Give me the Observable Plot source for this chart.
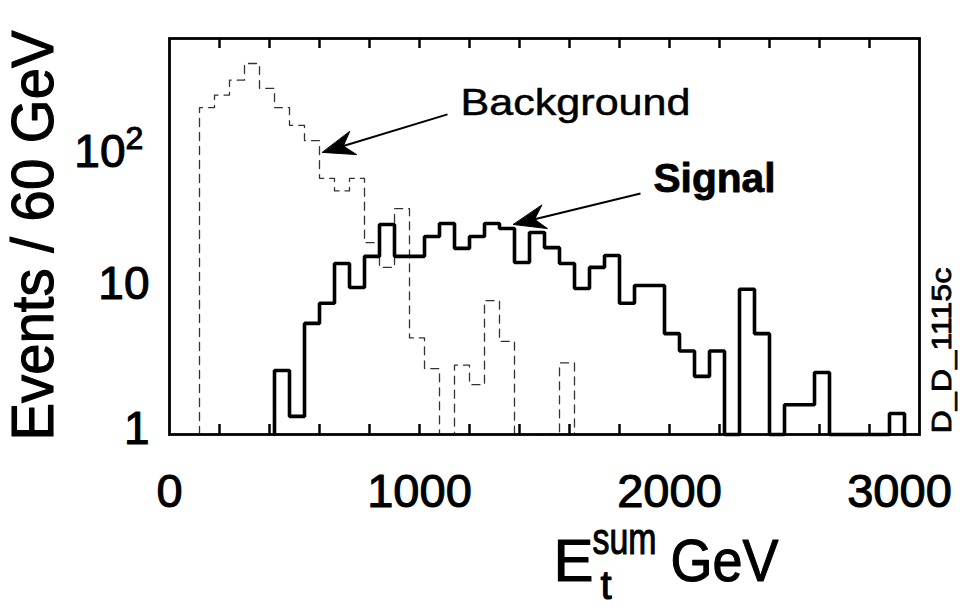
<!DOCTYPE html>
<html><head><meta charset="utf-8">
<script src="https://cdn.jsdelivr.net/npm/d3@7"></script>
<script src="https://cdn.jsdelivr.net/npm/@observablehq/plot@0.6"></script>
<style>body{margin:0;background:#fff} svg{display:block}</style>
</head><body><div id="chart"></div>
<script>
// ---- data ----
const binWidth = 60; // GeV
const signalStart = 420;
const signalValues = [2.67,1.32,5.5,7.5,13.8,9.55,15.4,25.1,15.4,15.4,20.9,25.5,17.4,20.9,25.5,23.6,14.0,22.2,17.6,13.8,9.4,13.0,15.6,7.5,9.85,9.85,4.7,3.6,2.44,3.6,0,9.3,4.7,0,1.58,1.58,2.59,0,0,0,0,1.38];
const backgroundStart = 120;
const backgroundValues = [151,183,230,297,203,151,115,91,51,42,51,19,13,32,4.4,2.75,0,2.9,2.15,7.8,4.17,0,0,0,3.0];
const xTickLabels = [0,1000,2000];
const xLastTickLabel = [3000];
const xTickMarks = [200,400,600,800,1000,1200,1400,1600,1800,2000,2200,2400,2600,2800];
const yDomain = [1,436];
const xDomain = [0,3000];
const arrows = [
  {id:"bg", x1:1112, y1:136, x2:612, y2:75.9},
  {id:"sig", x1:1884, y1:40.4, x2:1376, y2:25.1}
];
const bgLabel = [{text:"Background", x:1164, y:134}];
const sigLabel = [{text:"Signal", x:1936, y:41.1}];

// ---- build step outlines ----
function steps(start, values){
  const floor = yDomain[0];
  const pts = [{x:start, y:floor}];
  values.forEach((v,i)=>pts.push({x:start+i*binWidth, y:Math.max(v,floor)}));
  const end = start+values.length*binWidth;
  pts.push({x:end, y:Math.max(values[values.length-1],floor)});
  pts.push({x:end, y:floor});
  return pts;
}
const signalSteps = steps(signalStart, signalValues);
const backgroundSteps = steps(backgroundStart, backgroundValues);

const W = 962, H = 608, mL = 169, mR = 43, mT = 38, mB = 174;
const xs = d3.scaleLinear(xDomain,[mL,W-mR]);
const ys = d3.scaleLog(yDomain,[H-mB,mT]);
function head(a){
  const tx=xs(a.x2), ty=ys(a.y2), bx=xs(a.x1), by=ys(a.y1);
  const d=Math.hypot(bx-tx,by-ty), ux=(bx-tx)/d, uy=(by-ty)/d, nx=-uy, ny=ux;
  const L=32, Wd=12;
  const p=[[tx,ty],[tx+L*ux+Wd*nx,ty+L*uy+Wd*ny],[tx+0.68*L*ux,ty+0.68*L*uy],[tx+L*ux-Wd*nx,ty+L*uy-Wd*ny]];
  return p.map(([px,py])=>({id:a.id,x:xs.invert(px),y:ys.invert(py)}));
}
const heads = arrows.flatMap(head);
const shafts = arrows.map(a=>{const h=head(a)[2]; return {x1:a.x1,y1:a.y1,x2:h.x,y2:h.y};});
const frameH = H-mT-mB;
const heavy = {fill:"black", stroke:"black", strokeWidth:1.1};

const chart = Plot.plot({
  width: W, height: H,
  marginLeft: mL, marginRight: mR, marginTop: mT, marginBottom: mB,
  style: {fontFamily: "'Liberation Sans', Arial, Helvetica, sans-serif", background: "white", color: "black"},
  x: {domain: xDomain, axis: null},
  y: {type: "log", domain: yDomain, axis: null},
  marks: [
    Plot.line(backgroundSteps, {x:"x", y:"y", curve:"step-after", stroke:"#333", strokeWidth:1.3, strokeDasharray:"8,6"}),
    Plot.line(signalSteps, {x:"x", y:"y", curve:"step-after", stroke:"black", strokeWidth:3.6, strokeLinejoin:"miter"}),
    Plot.ruleX(xTickMarks, {x:d=>d, insetTop: frameH-10, stroke:"black", strokeWidth:2.5}),
    Plot.ruleX(xTickMarks, {x:d=>d, insetBottom: frameH-10, stroke:"black", strokeWidth:2.5}),
    Plot.frame({stroke:"black", strokeWidth:2.8}),
    Plot.text(xTickLabels, {x:d=>d, text:d=>String(d), frameAnchor:"bottom", lineAnchor:"bottom", dy:72, fontSize:47, ...heavy}),
    Plot.text(xLastTickLabel, {x:d=>d, text:d=>String(d), frameAnchor:"bottom", lineAnchor:"bottom", dx:-20, dy:72, fontSize:47, ...heavy}),
    Plot.text([1], {y:d=>d, text:()=>"1", frameAnchor:"left", textAnchor:"end", lineAnchor:"middle", dx:-20, dy:-5, fontSize:46, ...heavy}),
    Plot.text([10], {y:d=>d, text:()=>"10", frameAnchor:"left", textAnchor:"end", lineAnchor:"middle", dx:-20, dy:0, fontSize:46, ...heavy}),
    Plot.text([100], {y:d=>d, text:()=>"10", frameAnchor:"left", textAnchor:"end", lineAnchor:"middle", dx:-44, dy:18, fontSize:46, ...heavy}),
    Plot.text([100], {y:d=>d, text:()=>"2", frameAnchor:"left", textAnchor:"start", lineAnchor:"middle", dx:-44, dy:4, fontSize:32, ...heavy}),
    Plot.text(["Events / 60 GeV"], {text:d=>d, frameAnchor:"left", rotate:-90, textAnchor:"middle", lineAnchor:"middle", dx:-136, dy:-1, fontSize:60, ...heavy}),
    Plot.text(["E"], {text:d=>d, frameAnchor:"bottom-left", textAnchor:"start", lineAnchor:"bottom", dx:553-mL, dy:580-(H-mB), fontSize:60, ...heavy}),
    Plot.text(["sum"], {text:d=>d, frameAnchor:"bottom-left", textAnchor:"start", lineAnchor:"bottom", dx:592-mL, dy:553-(H-mB), fontSize:44, ...heavy}),
    Plot.text(["t"], {text:d=>d, frameAnchor:"bottom-left", textAnchor:"start", lineAnchor:"bottom", dx:600-mL, dy:598-(H-mB), fontSize:40, ...heavy}),
    Plot.text(["GeV"], {text:d=>d, frameAnchor:"bottom-left", textAnchor:"start", lineAnchor:"bottom", dx:670-mL, dy:580-(H-mB), fontSize:60, ...heavy}),
    Plot.text(["D_D_1115c"], {text:d=>d, frameAnchor:"bottom-right", rotate:-90, textAnchor:"start", lineAnchor:"middle", dx:23, dy:-1, fontSize:27, fill:"black", stroke:"black", strokeWidth:0.8}),
    Plot.link(shafts, {x1:"x1", y1:"y1", x2:"x2", y2:"y2", stroke:"black", strokeWidth:2}),
    Plot.line(heads, {x:"x", y:"y", z:"id", curve:"linear-closed", fill:"black", stroke:"black", strokeWidth:1}),
    Plot.text(bgLabel, {x:"x", y:"y", text:"text", textAnchor:"start", lineAnchor:"bottom", fontSize:37, fill:"black", stroke:"black", strokeWidth:0.5}),
    Plot.text(sigLabel, {x:"x", y:"y", text:"text", textAnchor:"start", lineAnchor:"bottom", fontWeight:"bold", fontSize:40, fill:"black", stroke:"black", strokeWidth:0.8})
  ]
});
document.getElementById("chart").appendChild(chart);

// stretch texts to the widths seen in the picture
const lengths = {"Events / 60 GeV":410, "D_D_1115c":166, "Background":230, "Signal":122, "sum":64, "GeV":108};
chart.querySelectorAll("text").forEach(t=>{
  const L = lengths[t.textContent];
  if (L) { t.setAttribute("textLength", L); t.setAttribute("lengthAdjust", "spacingAndGlyphs"); }
});
</script>
</body></html>
